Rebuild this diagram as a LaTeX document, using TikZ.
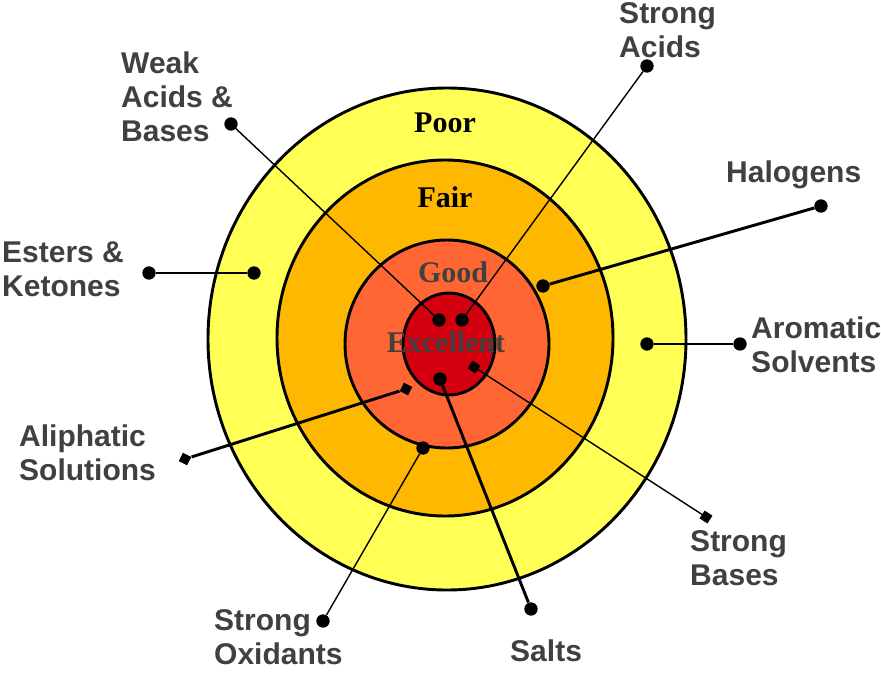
\documentclass[tikz,border=0pt]{standalone}
\usepackage{fontspec}
\setmainfont{Liberation Serif}
\setsansfont{Liberation Sans}
\definecolor{poorc}{HTML}{FFFF55}
\definecolor{fairc}{HTML}{FFB800}
\definecolor{goodc}{HTML}{FF6633}
\definecolor{excc}{HTML}{D40010}
\definecolor{txtgray}{HTML}{404040}
\tikzset{
  ring/.style={draw=black,line width=2.5pt},
  endpt/.style={circle,fill=black,inner sep=0pt,minimum size=0.4cm},
  endsq/.style={rectangle,fill=black,inner sep=0pt,minimum size=0.28cm},
  thickln/.style={line width=2.5pt},
  thinln/.style={line width=1.2pt},
  lbl/.style={anchor=west,inner sep=0pt,align=left,text=txtgray,
    font=\sffamily\bfseries\fontsize{25.6}{29}\selectfont},
  zone/.style={inner sep=0pt,font=\rmfamily\bfseries\fontsize{25.6}{29}\selectfont}
}
\begin{document}
\begin{tikzpicture}[x=0.03cm,y=-0.03cm]
  \useasboundingbox (0,0) rectangle (881,673);
  % target rings
  \filldraw[ring,fill=poorc] (447,339) ellipse (239 and 251);
  \filldraw[ring,fill=fairc] (445,338) ellipse (168 and 178);
  \filldraw[ring,fill=goodc] (447,344) ellipse (102 and 104);
  \filldraw[ring,fill=excc] (449,344) ellipse (46 and 51);
  \node[zone] (poor) at (445,123) {Poor};
  \node[zone] (fair) at (445,197) {Fair};
  \node[zone,text=txtgray] (good) at (453,272) {Good};
  \node[zone,text=txtgray] (exc) at (446,342) {Excellent};
  % labels
  \node[lbl] (weak) at (121,97) {Weak\\Acids \&\\Bases};
  \node[lbl] (stac) at (619,30) {Strong\\Acids};
  \node[lbl] (halo) at (726,175) {Halogens};
  \node[lbl] (este) at (2,269) {Esters \&\\Ketones};
  \node[lbl] (arom) at (751,345) {Aromatic\\Solvents};
  \node[lbl] (alip) at (19,453) {Aliphatic\\Solutions};
  \node[lbl] (stba) at (690,558) {Strong\\Bases};
  \node[lbl] (stox) at (214,637) {Strong\\Oxidants};
  \node[lbl] (salt) at (510,651) {Salts};
  % end points
  \node[endpt] (weakA) at (231,124) {};
  \node[endpt] (weakB) at (439,320) {};
  \node[endpt] (stacA) at (647,66) {};
  \node[endpt] (stacB) at (462,320) {};
  \node[endpt] (haloA) at (821,206) {};
  \node[endpt] (haloB) at (543,286) {};
  \node[endpt] (esteA) at (149,273) {};
  \node[endpt] (esteB) at (254,273) {};
  \node[endpt] (aromA) at (740,344) {};
  \node[endpt] (aromB) at (647,344) {};
  \node[endsq,rotate=63] (alipA) at (185,459) {};
  \node[endsq,rotate=63] (alipB) at (406,389) {};
  \node[endsq,rotate=-33] (stbaA) at (706,517) {};
  \node[endsq,rotate=-33] (stbaB) at (474,367) {};
  \node[endpt] (stoxA) at (323,621) {};
  \node[endpt] (stoxB) at (423,448) {};
  \node[endpt] (saltA) at (531,609) {};
  \node[endpt] (saltB) at (440,379) {};
  % connectors
  \draw[thinln] (weakA) -- (weakB);
  \draw[thinln] (stacA) -- (stacB);
  \draw[thickln] (haloA) -- (haloB);
  \draw[thickln] (esteA) -- (esteB);
  \draw[thickln] (aromA) -- (aromB);
  \draw[thickln] (alipA) -- (alipB);
  \draw[thinln] (stbaA) -- (stbaB);
  \draw[thinln] (stoxA) -- (stoxB);
  \draw[thickln] (saltA) -- (saltB);
\end{tikzpicture}
\end{document}
